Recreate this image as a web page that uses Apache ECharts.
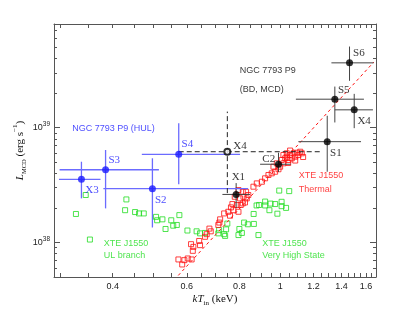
<!DOCTYPE html>
<html><head><meta charset="utf-8">
<script src="https://cdn.jsdelivr.net/npm/echarts@6/dist/echarts.min.js"></script>
<style>html,body{margin:0;padding:0;background:#fff}#c{width:415px;height:312px}</style>
</head><body><div id="c"></div>
<script>
// Luminosities are in units of 1e38 erg/s; temperatures in keV.
// NGC 7793 P9 (BD, MCD) fits
const bdNames = ['S6','S5','X4','S1','C2','X1'];
const bdT   = [1.462,1.349,1.500,1.294,0.991,0.786];
const bdTlo = [1.324,1.090,1.349,1.105,0.896,0.729];
const bdThi = [1.668,1.582,1.662,1.557,1.060,0.848];
const bdL   = [36.7,17.7,14.3,7.55,4.80,2.62];
const bdLlo = [25.6,11.1,9.9,4.13,4.11,1.99];
const bdLhi = [50.9,22.8,19.7,12.7,6.05,3.29];

// NGC 7793 P9 (HUL) fits
const hulNames = ['S4','S3','X3','S2'];
const hulT   = [0.574,0.3846,0.337,0.497];
const hulTlo = [0.469,0.299,0.298,0.380];
const hulThi = [0.803,0.515,0.374,0.839];
const hulL   = [5.86,4.30,3.55,2.94];
const hulLlo = [3.21,1.98,2.42,1.35];
const hulLhi = [10.9,6.39,5.05,5.41];

// X4 (open symbol, dashed error bars)
const x4Names = ['X4'];
const x4T = [0.749], x4Tlo = [0.574], x4Thi = [1.259];
const x4L = [6.17],  x4Llo = [2.69],  x4Lhi = [13.8];

// XTE J1550 thermal state
const thT = [0.573,0.585,0.592,0.603,0.616,0.614,0.620,0.622,0.645,0.642,0.663,0.669,0.684,0.679,0.713,0.720,0.717,0.736,0.753,0.760,0.770,0.764,0.806,0.815,0.825,0.833,0.818,0.840,0.830,0.796,0.815,0.780,0.803,0.789,0.774,0.796,0.864,0.880,0.905,0.921,0.938,0.955,0.973,0.991,1.000,1.018,1.028,1.037,1.056,1.076,1.096,1.116,1.047,1.066,1.086,1.009,1.018,1.037,1.105,1.126,0.982,0.964,1.056,1.086,1.134,1.045];
const thL = [0.711,0.643,0.701,0.725,0.711,0.966,0.845,0.915,0.947,1.03,1.12,1.18,1.25,1.32,1.42,1.59,1.49,1.79,1.85,1.71,2.16,2.02,2.12,2.19,2.23,2.42,2.50,2.59,2.76,2.86,2.76,2.50,2.42,2.12,1.91,1.85,3.06,3.27,3.38,3.62,3.87,4.00,4.13,4.34,4.57,4.89,5.41,5.58,5.78,5.98,6.05,6.17,5.23,5.41,5.58,5.23,5.78,5.98,5.78,5.98,4.89,4.57,6.32,5.17,5.55,4.92];

// XTE J1550 UL branch
const ulT = [0.576,0.568,0.557,0.551,0.534,0.525,0.510,0.507,0.474,0.462,0.452,0.431,0.428,0.345,0.327,0.353];
const ulL = [1.73,1.42,1.40,1.56,1.31,1.59,1.56,1.67,1.79,1.79,1.84,2.37,1.91,2.59,1.77,1.06];

// XTE J1550 very high state
const vhsT = [0.995,1.051,0.921,1.008,0.879,0.891,0.921,0.949,0.973,1.008,1.033,0.943,0.985,0.865,0.821,0.866,0.811,0.888,0.838,0.796,0.800,0.749,0.744,0.736,0.740,0.716,0.713,0.663,0.645,0.633,0.602];
const vhsL = [2.83,2.80,2.27,2.26,2.10,2.12,2.10,2.18,2.16,2.07,2.00,1.91,1.78,1.77,1.49,1.45,1.21,1.16,1.44,1.16,1.31,1.46,1.30,1.18,1.14,1.28,1.20,1.21,1.20,1.25,1.27];

// L ~ T^4 reference line (end points)
const lineT = [0.56, 1.67];
const lineL = [0.472, 37.3];

// Annotations
const noteTexts = ['NGC 7793 P9','(BD, MCD)','NGC 7793 P9 (HUL)','XTE J1550','Thermal','XTE J1550','UL branch','XTE J1550','Very High State'];
const noteT = [0.799,0.799,0.3197,1.104,1.104,0.3796,0.3796,0.9046,0.9046];
const noteL = [31.2,21.3,9.9,3.85,2.92,0.98,0.77,0.98,0.77];

// Axis ticks
const xLabelTicks = [0.4,0.6,0.8,1,1.2,1.4,1.6];
const xTicks = [0.3,0.35,0.4,0.45,0.5,0.55,0.6,0.65,0.7,0.75,0.8,0.85,0.9,0.95,1,1.05,1.1,1.15,1.2,1.25,1.3,1.35,1.4,1.45,1.5,1.55,1.6,1.65];
const yMajorTicks = [1,10];
const yMinorTicks = [0.5,0.6,0.7,0.8,0.9,2,3,4,5,6,7,8,9,20,30,40,50,60,70,80];
const yUnitExp = 38;

// ---------- styling ----------
const RED = '#ff1010', GREEN = '#22dd22', BLUE = '#1a1aff', FRAME = '#555';
const noteColors = ['#000','#000',BLUE,RED,RED,GREEN,GREEN,GREEN,GREEN];
const bdLabelOff  = [[3,-10],[2.6,-9.3],[2.7,11],[2.3,11],[-16.7,-5],[-5,-17.8]];
const hulLabelOff = [[2.3,-10],[2.3,-9.7],[3.3,10.7],[2,11.3]];
const x4LabelOff  = [[5.4,-5.7]];

const XMIN = 0.29, XMAX = 1.69, YMIN = 0.5, YMAX = 80;

function zip(a,b){ return a.map((v,i)=>[v,b[i]]); }
function errData(T,L,Tlo,Thi,Llo,Lhi){ return T.map((t,i)=>[t,L[i],Tlo[i],Thi[i],Llo[i],Lhi[i]]); }
function errSeries(data, color, width, dash, z){
  return {
    type:'custom', xAxisIndex:0, yAxisIndex:0, z:z, silent:true, clip:false,
    encode:{x:[0,2,3], y:[1,4,5]},
    data:data,
    renderItem:function(params, api){
      const x=api.value(0), y=api.value(1);
      const a=api.coord([api.value(2),y]), b=api.coord([api.value(3),y]);
      const c=api.coord([x,api.value(4)]), d=api.coord([x,api.value(5)]);
      const st={stroke:color, lineWidth:width, lineDash:dash||null};
      return {type:'group', children:[
        {type:'line', shape:{x1:a[0],y1:a[1],x2:b[0],y2:b[1]}, style:st},
        {type:'line', shape:{x1:c[0],y1:c[1],x2:d[0],y2:d[1]}, style:st}
      ]};
    }
  };
}
function labelSeries(names,T,L,offs,color){
  return {
    type:'scatter', xAxisIndex:0, yAxisIndex:0, symbolSize:1, z:20, silent:true,
    itemStyle:{color:'rgba(0,0,0,0)'},
    label:{show:true, position:'right', distance:0, formatter:'{b}', fontFamily:'Liberation Serif', fontSize:11, color:color},
    data:names.map((n,i)=>({name:n, value:[T[i],L[i]], label:{offset:offs[i]}}))
  };
}

const supRich = {sup:{fontSize:6.5, lineHeight:6, verticalAlign:'top', fontFamily:'Liberation Sans', color:'#222'}};

function xAxisDef(pos){
  const main = pos==='bottom';
  return {
    type:'log', min:XMIN, max:XMAX, position:pos, gridIndex:0,
    axisLine:{show:true, onZero:false, lineStyle:{color:FRAME, width:1}},
    axisTick:{show:true, inside:true, length:4, customValues:xTicks, lineStyle:{color:FRAME, width:1}},
    axisLabel:{show:main, customValues:xLabelTicks, margin:5, fontSize:9, fontFamily:'Liberation Sans', color:'#222',
      formatter:function(v){ return String(Math.round(v*10)/10); }},
    splitLine:{show:false}, minorTick:{show:false},
    name: main ? '{i|kT}{sub|in} (keV)' : '',
    nameLocation:'middle', nameGap:14, nameMoveOverlap:false,
    nameTextStyle:{fontFamily:'Liberation Serif', fontSize:11, color:'#111', lineHeight:16,
      rich:{i:{fontStyle:'italic', fontFamily:'Liberation Serif', fontSize:11, lineHeight:16, color:'#111'},
            sub:{fontFamily:'Liberation Serif', fontSize:7, lineHeight:7, verticalAlign:'bottom', color:'#111'}}}
  };
}
function yAxisDef(pos, major){
  const main = pos==='left' && major;
  return {
    type:'log', min:YMIN, max:YMAX, position:pos, gridIndex:0,
    axisLine:{show:major, onZero:false, lineStyle:{color:FRAME, width:1}},
    axisTick:{show:true, inside:true, length: major?6:3, customValues: major?yMajorTicks:yMinorTicks, lineStyle:{color:FRAME, width:1}},
    axisLabel:{show:main, customValues:yMajorTicks, margin:4, fontSize:9, lineHeight:14, fontFamily:'Liberation Sans', color:'#222',
      formatter:function(v){ return '10{sup|' + (yUnitExp + Math.round(Math.log10(v))) + '}'; }, rich:supRich},
    splitLine:{show:false}, minorTick:{show:false},
    name: main ? '{i|L}{sub|MCD} (erg s{sup|−1})' : '',
    nameLocation:'middle', nameGap:26, nameMoveOverlap:false,
    nameTextStyle:{fontFamily:'Liberation Serif', fontSize:11, color:'#111', lineHeight:16,
      rich:{i:{fontStyle:'italic', fontFamily:'Liberation Serif', fontSize:11, lineHeight:16, color:'#111'},
            sub:{fontFamily:'Liberation Serif', fontSize:6.5, lineHeight:7, verticalAlign:'bottom', color:'#111'},
            sup:{fontFamily:'Liberation Serif', fontSize:7, lineHeight:7, verticalAlign:'top', color:'#111'}}}
  };
}

const option = {
  animation:false,
  backgroundColor:'#fff',
  grid:{left:54, top:24, width:322, height:253, containLabel:false},
  xAxis:[xAxisDef('bottom'), xAxisDef('top')],
  yAxis:[yAxisDef('left',true), yAxisDef('left',false), yAxisDef('right',true), yAxisDef('right',false)],
  series:[
    {type:'scatter', name:'UL', xAxisIndex:0, yAxisIndex:0, symbol:'rect', symbolSize:5, z:2, silent:true,
     itemStyle:{color:'rgba(255,255,255,0)', borderColor:GREEN, borderWidth:1}, data:zip(ulT,ulL).concat(zip(vhsT,vhsL))},
    {type:'scatter', name:'Thermal', xAxisIndex:0, yAxisIndex:0, symbol:'rect', symbolSize:5, z:3, silent:true,
     itemStyle:{color:'rgba(255,255,255,0)', borderColor:RED, borderWidth:1}, data:zip(thT,thL)},
    {type:'line', xAxisIndex:0, yAxisIndex:0, symbol:'none', z:4, silent:true, clip:true,
     lineStyle:{color:RED, width:1, type:[3,3]}, data:zip(lineT,lineL)},
    errSeries(errData(bdT,bdL,bdTlo,bdThi,bdLlo,bdLhi), '#444', 1, null, 5),
    errSeries(errData(hulT,hulL,hulTlo,hulThi,hulLlo,hulLhi), '#6b6bff', 1.3, null, 5),
    errSeries(errData(x4T,x4L,x4Tlo,x4Thi,x4Llo,x4Lhi), '#222', 1, [5,3], 5),
    {type:'scatter', xAxisIndex:0, yAxisIndex:0, symbol:'circle', symbolSize:7, z:8, silent:true,
     itemStyle:{color:'#000'}, data:zip(bdT,bdL)},
    {type:'scatter', xAxisIndex:0, yAxisIndex:0, symbol:'circle', symbolSize:7, z:8, silent:true,
     itemStyle:{color:BLUE}, data:zip(hulT,hulL)},
    {type:'scatter', xAxisIndex:0, yAxisIndex:0, symbol:'emptyCircle', symbolSize:6, z:8, silent:true,
     itemStyle:{color:'#000', borderColor:'#000', borderWidth:1.2}, data:zip(x4T,x4L)},
    labelSeries(bdNames,bdT,bdL,bdLabelOff,'#000'),
    labelSeries(hulNames,hulT,hulL,hulLabelOff,BLUE),
    labelSeries(x4Names,x4T,x4L,x4LabelOff,'#000'),
    {type:'scatter', xAxisIndex:0, yAxisIndex:0, symbolSize:1, z:20, silent:true,
     itemStyle:{color:'rgba(0,0,0,0)'},
     label:{show:true, position:'right', distance:0, formatter:'{b}', fontFamily:'Liberation Sans', fontSize:9},
     data:noteTexts.map((t,i)=>({name:t, value:[noteT[i],noteL[i]], label:{color:noteColors[i]}}))}
  ]
};
const chart = echarts.init(document.getElementById('c'), null, {renderer:'canvas'});
chart.setOption(option);
</script></body></html>
